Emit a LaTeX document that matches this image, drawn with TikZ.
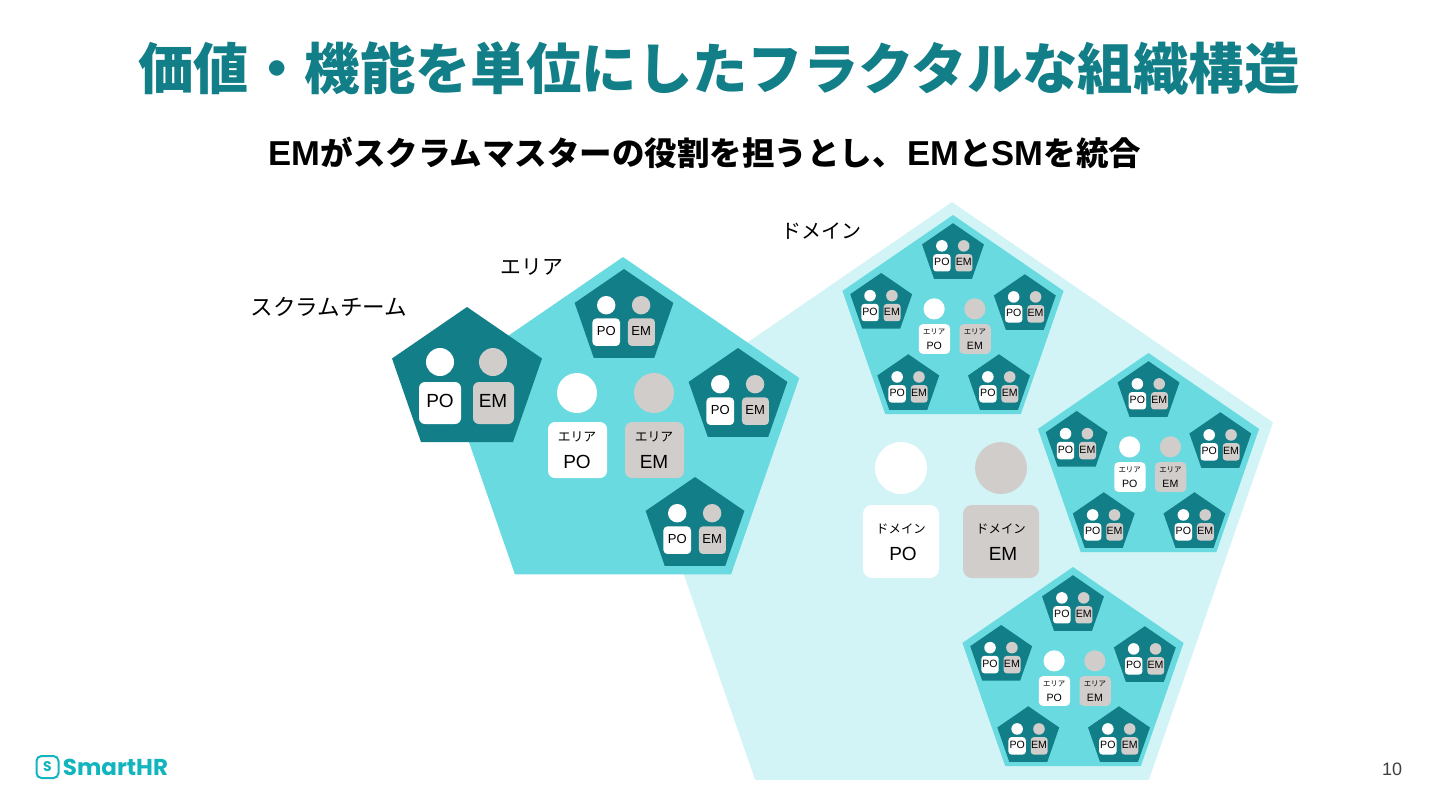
\documentclass[tikz,border=0pt]{standalone}
\usepackage{fontspec}
\setmainfont{Liberation Sans}
\newfontfamily\jpfont{Noto Sans CJK JP}
\newfontfamily\logofont{Poppins}
\definecolor{teamcol}{HTML}{127F88}
\definecolor{areacol}{HTML}{69DAE0}
\definecolor{domaincol}{HTML}{D2F4F6}
\definecolor{emcol}{HTML}{D1CDCB}
\definecolor{logocol}{HTML}{12B5BE}
\newcommand{\fsize}[1]{\fontsize{#1}{#1}\selectfont}
\newcommand{\subjp}[1]{{\jpfont\fsize{16.25}#1}}

\tikzset{
    pics/pentagon/.style={code={
        \fill[#1] (0,0) -- (75,51.5) -- (46,135) -- (-46,135) -- (-75,51.5) -- cycle;
    }},
    % #1 text size, #2 corner radius
    pics/team/.style 2 args={code={
        \pic {pentagon=teamcol};
        \fill[white] (-27,55) circle (14);
        \fill[emcol] (26,55) circle (14);
        \fill[white, rounded corners=#2] (-48,75) rectangle (-6,117);
        \fill[emcol, rounded corners=#2] (6,75) rectangle (47,117);
        \node[font=\fsize{#1}, inner sep=0pt] (po) at (-27,94) {PO};
        \node[font=\fsize{#1}, inner sep=0pt] (em) at (26,94) {EM};
    }},
    % #1 label size, #2 text size, #3 corner radius
    pics/leaders/.style n args={3}{code={
        \fill[white] (-38.5,0) circle (20);
        \fill[emcol] (38.5,0) circle (20);
        \fill[white, rounded corners=#3] (-67.5,29) rectangle (-8.5,85);
        \fill[emcol, rounded corners=#3] (9.5,29) rectangle (68.5,85);
        \node[font=\jpfont\fsize{#1}, inner sep=0pt] (polabel) at (-38.5,44) {エリア};
        \node[font=\jpfont\fsize{#1}, inner sep=0pt] (emlabel) at (38.5,44) {エリア};
        \node[font=\fsize{#2}, inner sep=0pt] (po) at (-38.5,69) {PO};
        \node[font=\fsize{#2}, inner sep=0pt] (em) at (38.5,69) {EM};
    }},
    pics/subarea/.style={code={
        \pic[scale=2.34] {pentagon=areacol};
        \pic (t1) [scale=.655] at (0,13) {team={12.8}{1.5pt}};
        \pic (t2) [scale=.655] at (-114,92) {team={12.8}{1.5pt}};
        \pic (t3) [scale=.655] at (114,94) {team={12.8}{1.5pt}};
        \pic (t4) [scale=.655] at (-71,221) {team={12.8}{1.5pt}};
        \pic (t5) [scale=.655] at (73,221) {team={12.8}{1.5pt}};
        \pic (lead) [scale=.84] at (2.4,149) {leaders={7}{10}{2pt}};
    }},
}

\begin{document}
\begin{tikzpicture}[x=.5pt, y=-.5pt, transform shape]
    \useasboundingbox (0,0) rectangle (1440,810);

    % Title
    \node[font=\jpfont\bfseries\fsize{27.7}, text=teamcol, inner sep=0pt] (title) at (719,68) {価値・機能を単位にしたフラクタルな組織構造};
    \node[font=\bfseries\fsize{17.3}, inner sep=0pt] (subtitle) at (705,153) {EM\subjp{がスクラムマスターの役割を担うとし、}{\fsize{5} }EM\subjp{と}SM\subjp{を統合}};

    % Labels
    \node[font=\jpfont\fsize{11.3}, inner sep=0pt] (teamlabel) at (329,307) {スクラムチーム};
    \node[font=\jpfont\fsize{10.4}, inner sep=0pt] (arealabel) at (532,267) {エリア};
    \node[font=\jpfont\fsize{10}, inner sep=0pt] (domainlabel) at (821,231) {ドメイン};

    % Domain
    \pic[scale=4.28] at (952,202) {pentagon=domaincol};

    % Area on the left
    \pic[scale=2.35] at (623,257) {pentagon=areacol};
    \pic (leftone) [scale=.658] at (624,269) {team={9.9}{2pt}};
    \pic (lefttwo) [scale=.658] at (738,348) {team={9.9}{2pt}};
    \pic (leftthree) [scale=.658] at (695,477) {team={9.9}{2pt}};
    \pic (leftlead) at (615.5,393) {leaders={6.4}{9.5}{3.5pt}};

    % Scrum team
    \pic (bigteam) at (467,307) {team={9.5}{3pt}};

    % Areas in the domain
    \pic (areaone) [scale=.63] at (953,215) {subarea};
    \pic (areatwo) [scale=.63] at (1148.5,353) {subarea};
    \pic (areathree) [scale=.63] at (1073,567) {subarea};

    % Domain leaders
    \fill[white] (901,468) circle (26);
    \fill[emcol] (1001,468) circle (26);
    \fill[white, rounded corners=4.5pt] (863,505) rectangle (939,578);
    \fill[emcol, rounded corners=4.5pt] (963,505) rectangle (1039,578);
    \node[font=\jpfont\fsize{6.2}, inner sep=0pt] (domainpolabel) at (901,529) {ドメイン};
    \node[font=\jpfont\fsize{6.2}, inner sep=0pt] (domainemlabel) at (1001,529) {ドメイン};
    \node[font=\fsize{9.5}, inner sep=0pt] (domainpo) at (903,554) {PO};
    \node[font=\fsize{9.5}, inner sep=0pt] (domainem) at (1003,554) {EM};

    % Logo and page number
    \node[draw=logocol, line width=1pt, rounded corners=2.5pt, minimum size=11pt, inner sep=0pt, font=\logofont\bfseries\fsize{7}, text=logocol] (logomark) at (47.5,767) {S};
    \node[font=\logofont\bfseries\fsize{11.5}, text=logocol, inner sep=0pt] (logotext) at (115.5,767) {SmartHR};
    \node[font=\fsize{9}, text=black!75, inner sep=0pt] (pagenum) at (1392,769) {10};
\end{tikzpicture}
\end{document}
